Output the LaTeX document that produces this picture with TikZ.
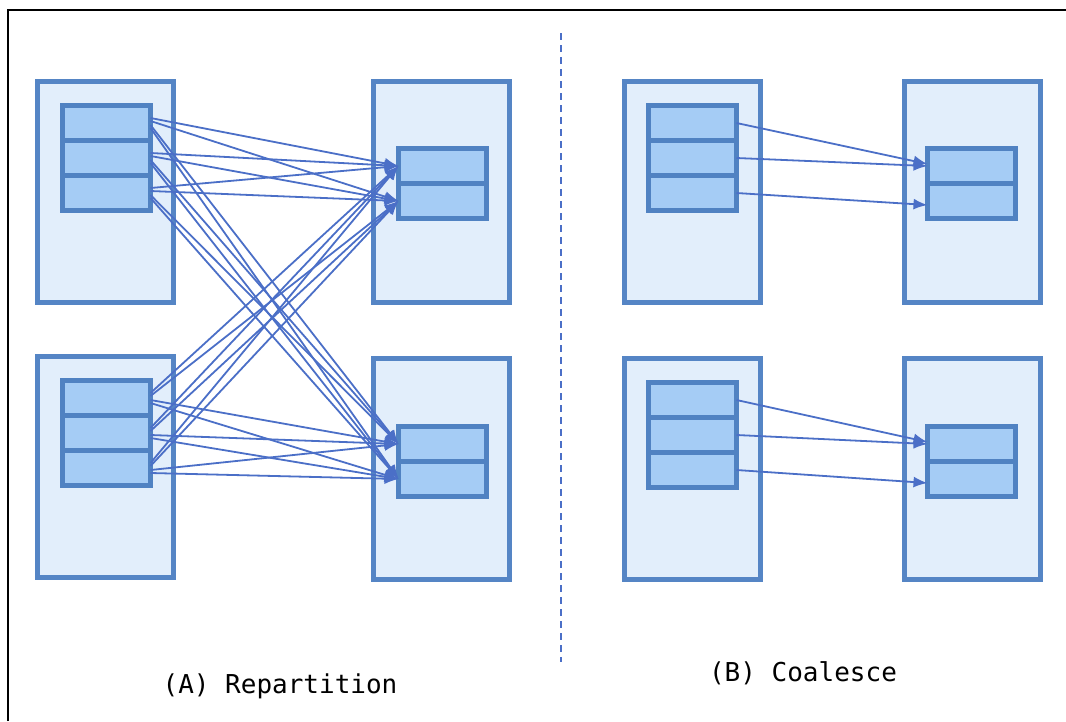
\documentclass[tikz,border=0pt]{standalone}
\usepackage{fontspec}
\setmonofont{DejaVu Sans Mono}
\usetikzlibrary{arrows.meta, positioning}

\definecolor{execedge}{HTML}{5585C5}
\definecolor{execfill}{HTML}{E2EEFB}
\definecolor{partedge}{HTML}{5082C2}
\definecolor{partfill}{HTML}{A5CCF5}
\definecolor{linkblue}{HTML}{4B6FC7}

\begin{document}
\begin{tikzpicture}[x=1pt, y=-1pt, >={Latex[length=14pt,width=11pt]},
  executor/.style={draw=execedge, fill=execfill, line width=5.5pt, minimum width=136pt, minimum height=221pt, anchor=north west, inner sep=0pt, outer sep=0pt},
  part/.style={draw=partedge, fill=partfill, line width=5.5pt, minimum width=88pt, minimum height=35pt, anchor=north west, inner sep=0pt, outer sep=0pt},
  link/.style={->, draw=linkblue, line width=1.8pt},
  caption/.style={font=\ttfamily\fontsize{26}{30}\selectfont}]
  \useasboundingbox (0,0) rectangle (1066,721);

  % outer frame
  \draw [line width=2.8pt] (8,721) -- (8,10) -- (1066,10);

  % (A) repartition: executors
  \node (ex_src_top) [executor] at (37.5,81.5) {};
  \node (ex_src_bot) [executor] at (37.5,356.5) {};
  \node (ex_dst_top) [executor] at (373.5,81.5) {};
  \node (ex_dst_bot) [executor] at (373.5,358.5) {};

  % (A) repartition: partitions
  \node (src_top_1) [part] at (62.5,105.5) {};
  \node (src_top_2) [part, below=0pt of src_top_1] {};
  \node (src_top_3) [part, below=0pt of src_top_2] {};
  \node (src_bot_1) [part] at (62.5,380.5) {};
  \node (src_bot_2) [part, below=0pt of src_bot_1] {};
  \node (src_bot_3) [part, below=0pt of src_bot_2] {};
  \node (dst_top_1) [part] at (398.5,148.5) {};
  \node (dst_top_2) [part, below=0pt of dst_top_1] {};
  \node (dst_bot_1) [part] at (398.5,426.5) {};
  \node (dst_bot_2) [part, below=0pt of dst_bot_1] {};

  % (B) coalesce: executors
  \node (co_ex_src_top) [executor] at (624.5,81.5) {};
  \node (co_ex_src_bot) [executor] at (624.5,358.5) {};
  \node (co_ex_dst_top) [executor] at (904.5,81.5) {};
  \node (co_ex_dst_bot) [executor] at (904.5,358.5) {};

  % (B) coalesce: partitions
  \node (co_src_top_1) [part] at (648.5,105.5) {};
  \node (co_src_top_2) [part, below=0pt of co_src_top_1] {};
  \node (co_src_top_3) [part, below=0pt of co_src_top_2] {};
  \node (co_src_bot_1) [part] at (648.5,382.5) {};
  \node (co_src_bot_2) [part, below=0pt of co_src_bot_1] {};
  \node (co_src_bot_3) [part, below=0pt of co_src_bot_2] {};
  \node (co_dst_top_1) [part] at (927.5,148.5) {};
  \node (co_dst_top_2) [part, below=0pt of co_dst_top_1] {};
  \node (co_dst_bot_1) [part] at (927.5,426.5) {};
  \node (co_dst_bot_2) [part, below=0pt of co_dst_bot_1] {};

  % full shuffle: every partition goes to every target
  \foreach \s in {top,bot}
    \foreach \i in {1,2,3}
      \foreach \t/\j/\dy in {top/1/5, top/2/2, bot/1/-2, bot/2/-5}
        \draw [link] ([yshift=\dy pt]src_\s_\i.east) -- (dst_\t_\j.west);

  % coalesce: neighbouring partitions merged locally
  \foreach \s in {top,bot} {
    \draw [link] (co_src_\s_1.east) -- ([yshift=2pt]co_dst_\s_1.west);
    \draw [link] (co_src_\s_2.east) -- (co_dst_\s_1.west);
    \draw [link] (co_src_\s_3.east) -- ([yshift=-4pt]co_dst_\s_2.west);
  }

  % divider
  \coordinate (div_top) at (561,33);
  \coordinate (div_bot) at (561,662);
  \draw [linkblue, line width=1.5pt, dash pattern=on 7pt off 5pt] (div_top) -- (div_bot);

  \node (cap_a) [caption] at (280,686) {(A) Repartition};
  \node (cap_b) [caption] at (803,673) {(B) Coalesce};
\end{tikzpicture}
\end{document}
